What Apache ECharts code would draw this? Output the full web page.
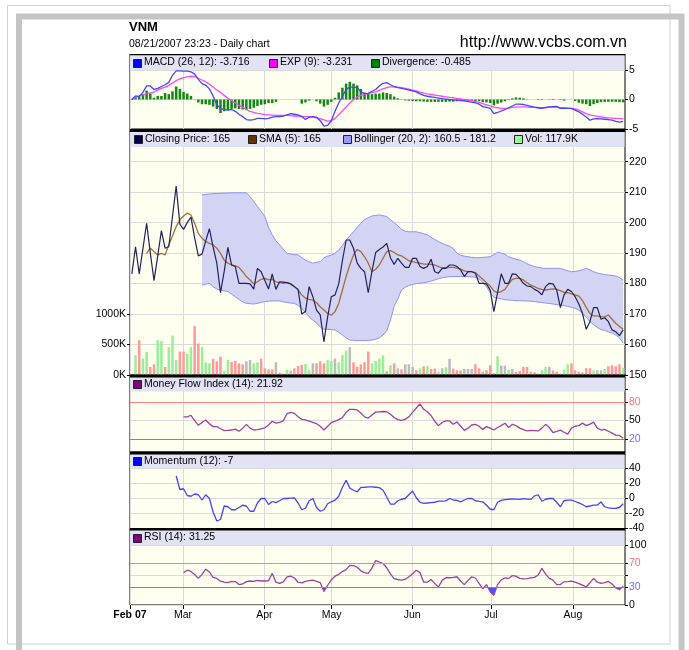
<!DOCTYPE html>
<html><head><meta charset="utf-8">
<script src="https://cdn.jsdelivr.net/npm/echarts@6/dist/echarts.min.js"></script>
<style>html,body{margin:0;padding:0;background:#fff}#c{width:689px;height:650px}</style>
</head><body><div id="c"></div>
<script>
// ---- data (day index 0..133, Feb 2007 - 21 Aug 2007) ----
const monthLabels = ['Feb 07','Mar','Apr','May','Jun','Jul','Aug'];
const monthPos = [-0.5,13.85,35.86,54.1,75.9,97.2,119.4];

const closePrice = [183.2,192.1,183.2,191.5,199.8,190,181.0,189,197.4,191.6,
 192.1,202,212.0,199.5,197.8,200,201.8,195,189.1,189.7,
 194,198.0,192,186.7,177.0,184,191.9,186.1,185.6,180.1,
 180.1,180.1,179.9,178.2,185.0,183.9,181,178.2,183.2,178.1,
 180.6,180.5,180.3,179.9,179,178.1,170.0,170.8,179.0,175.7,
 171.3,169.7,160.9,169.1,175.7,176.3,179.9,187.5,194.3,194.3,
 191.6,186.7,185,183.9,177.0,184,190.2,191.2,192,193.2,
 188.5,186.3,188.3,186.7,185.3,185.3,188.3,188.3,185.6,185.0,
 185.6,188.0,183.9,183.4,185.0,185.0,186.1,186.1,185.6,184.5,
 182.3,183.9,183.9,183.4,180.1,180.1,179.9,177.9,170.8,177,
 183.2,180.1,180.1,183.2,183.0,181.7,180.1,179.2,179.0,178.1,
 177.5,176.3,179.0,180.1,179.9,177.9,172.1,176.3,178.1,177.4,
 175.7,173.3,170.2,165.0,167.5,172.1,172.1,168.3,168.8,167.5,
 164.8,164.2,162.9,164.8];

const sma5 = [null,null,null,null,189.9,191.6,190.5,189.4,189.9,189.4,
 192.7,195.6,198.7,200.9,202.2,203.1,202.5,199.8,196.5,194.9,
 193.8,193.2,192.7,191.6,189.9,187.7,186.7,186.1,185.8,185.3,
 183.9,182.3,181.2,179.9,180.6,181.4,181.7,181.2,181.4,180.6,
 180.3,180.1,180.3,179.9,179.0,177.9,176.3,175.2,174.8,174.6,
 173.7,172.4,171.3,170.2,169.6,170.8,173.5,177.9,182.3,186.1,
 189.4,191.2,190.5,188.8,186.7,183.9,184.7,186.1,188.3,190.5,
 190.8,190.2,189.4,189.1,188.3,187.5,187.2,186.9,186.7,186.4,
 186.4,186.3,186.1,185.6,185.2,185.2,185.3,185.3,185.1,184.8,
 184.2,183.9,183.9,183.6,182.5,181.4,180.3,179.2,177.6,177.0,
 177.4,178.1,179.9,181.4,181.7,181.7,181.2,180.3,179.5,179.0,
 178.4,178.1,177.9,178.1,178.3,178.1,177.7,177.1,177.0,176.6,
 176.3,175.9,174.4,172.2,170.2,169.4,169.4,169.1,169.1,169.7,
 168.3,167.0,165.9,165.0];

const bollUpper = [null,null,null,null,null,null,null,null,null,null,
 null,null,null,null,null,null,null,null,null,
 209.1,209.3,209.4,209.5,209.6,209.6,209.7,209.7,209.8,209.8,
 209.8,209.8,209.8,208.5,207,205.3,203.7,202.0,198.5,196,
 194,192.7,191.3,189.9,189.7,189.5,189.4,188.5,187.7,187.2,
 186.7,187,187.2,188.5,189,189.4,190,191,192.5,194.3,
 195.6,197.0,198.5,199.8,201,201.6,202.2,202.4,202.5,202.3,
 202.0,201,200,199,197.8,197.2,197,197,197,196.7,
 196.4,196,195.2,194.5,193.8,193.2,192.7,192.3,191.5,190,
 189.3,189,188.8,188.6,188.5,188.5,188.6,188.7,188.8,189.5,
 190.3,190,189.6,188.8,188.4,188,187.7,187.2,186.5,186,
 185.6,185.3,185.1,185.0,185.0,185.0,185.0,185,184.6,184.2,
 183.9,184,184.2,184.6,185.0,184.5,183.9,183.5,183.2,183,
 182.8,182.7,182.5,182.0,181.2];

const bollLower = [null,null,null,null,null,null,null,null,null,null,
 null,null,null,null,null,null,null,null,null,
 179.5,179.8,180.1,179,178.2,177.9,177.6,177.4,176.5,175.7,
 174.8,174,173.5,173.4,173.3,173.5,173.8,174.1,174.2,174.3,
 174.3,174.3,174,173.8,173.6,173.5,172.8,171.9,170.5,169.1,
 168,167.0,165.8,165.0,165.0,164.9,164.8,164,163.1,162.2,
 161.5,161.4,161.3,161.3,161.3,161.3,161.5,161.7,162.2,163.1,
 164.5,168,172.5,175,177.9,178.8,179.4,179.7,180,180.1,
 180.3,180.5,180.8,181.2,181.6,181.9,182.1,182.3,182.3,182.3,
 182.3,182.3,182.3,182.2,182.1,181.5,180.5,179,177,175.5,
 175.2,175,174.7,174.6,174.5,174.4,174.4,174.3,174.3,174.2,
 174.1,173.9,173.8,173.6,173.5,173.3,173.1,173,172.8,172.5,
 172.2,171.9,171.3,170.2,169,167.5,166.5,165.6,164.9,164.6,
 164.2,163.8,163.1,162.2,160.5];

const volumeK = [null,324,571,269,379,132,176,571,555,132,
 456,648,247,385,385,346,456,802,516,456,
 209,192,264,225,302,71,247,214,231,192,
 176,225,247,192,209,269,110,93,93,209,
 38,22,88,71,110,148,165,181,77,192,
 192,225,192,242,231,269,209,330,401,456,
 209,137,176,209,385,192,231,269,324,60,
 159,192,110,93,176,176,132,77,110,143,
 148,99,104,55,110,126,264,104,77,77,
 99,99,99,176,110,55,77,159,33,308,
 154,154,88,99,55,66,132,132,55,44,
 22,77,132,132,77,55,22,88,176,192,
 77,55,44,110,110,77,77,77,99,143,
 159,143,176,117.9];

// u = up (green), d = down (red), n = unchanged (grey)
const volumeDir = ['u','u','d','u','u','d','d','u','u','d',
 'u','u','u','d','d','u','u','d','d','u',
 'u','u','d','d','d','u','u','d','d','d',
 'd','n','n','u','u','d','d','d','d','n',
 'd','d','u','n','d','d','d','u','u','n',
 'd','d','d','u','u','n','u','u','u','n',
 'd','d','d','d','d','u','u','u','u','d',
 'u','d','n','d','n','n','n','d','u','d',
 'u','d','d','u','n','u','n','d','d','d',
 'n','n','n','d','d','n','d','d','n','u',
 'n','n','u','n','d','d','d','d','n','d',
 'd','u','u','n','d','d','n','u','u','d',
 'd','d','n','d','d','u','n','n','u','d',
 'd','d','d','u'];

const macd = [0,0.6,0.5,1.2,2.3,2.3,1.7,1.9,2.2,2.5,
 2.9,4.1,4.85,4.85,4.8,4.8,4.7,4.3,3.4,2.7,
 2.4,1.8,0.6,-0.9,-1.5,-1.7,-1.8,-1.7,-2.0,-2.5,
 -2.9,-3.4,-3.5,-3.4,-3.2,-3.2,-3.3,-3.2,-3.0,-2.9,
 -2.9,-2.8,-2.6,-2.4,-2.5,-2.6,-2.9,-3.4,-3.0,-2.9,
 -3.0,-3.6,-4.5,-4.4,-3.6,-2.0,-0.6,0.5,1.7,2.1,
 2.1,2.0,1.3,1.0,1.05,1.4,1.7,2.3,2.75,2.85,
 2.5,2.2,2.0,1.9,1.75,1.6,1.45,1.3,0.95,0.7,
 0.55,0.45,0.35,0.25,0.15,0.08,0.0,-0.05,-0.1,-0.15,
 -0.25,-0.35,-0.45,-0.55,-0.8,-1.2,-1.35,-1.5,-2.4,-2.2,
 -1.95,-1.7,-1.4,-1.1,-0.8,-0.8,-0.85,-1.0,-1.15,-1.3,
 -1.4,-1.5,-1.35,-1.25,-1.2,-1.15,-1.5,-1.5,-1.5,-1.5,
 -1.8,-2.1,-2.5,-2.95,-3.5,-3.3,-3.25,-3.3,-3.35,-3.4,
 -3.5,-3.7,-3.85,-3.716];

const macdExp = [0,0.3,0.6,0.8,1.0,1.1,1.3,1.6,1.9,2.1,
 2.4,2.8,3.2,3.5,3.7,3.85,3.95,3.9,3.6,3.3,
 3.0,2.6,2.1,1.6,1.2,0.7,0.2,-0.2,-0.6,-1.0,
 -1.3,-1.7,-2.0,-2.2,-2.35,-2.45,-2.55,-2.6,-2.65,-2.7,
 -2.7,-2.7,-2.7,-2.75,-2.8,-2.8,-2.85,-2.9,-2.9,-3.0,
 -3.1,-3.25,-3.45,-3.65,-3.6,-3.2,-2.6,-1.9,-1.3,-0.6,
 0.0,0.45,0.7,0.85,1.0,1.15,1.3,1.55,1.8,2.0,
 2.15,2.15,2.1,2.0,1.9,1.75,1.6,1.45,1.25,1.1,
 0.95,0.85,0.75,0.65,0.55,0.45,0.35,0.3,0.2,0.1,
 0.0,-0.1,-0.2,-0.35,-0.5,-0.7,-0.9,-1.1,-1.3,-1.4,
 -1.5,-1.5,-1.45,-1.35,-1.3,-1.25,-1.25,-1.3,-1.35,-1.35,
 -1.4,-1.4,-1.4,-1.35,-1.35,-1.35,-1.4,-1.4,-1.45,-1.5,
 -1.6,-1.8,-2.1,-2.4,-2.6,-2.75,-2.85,-2.95,-3.05,-3.1,
 -3.15,-3.2,-3.25,-3.231];

const divergence = [0.1,0.5,0.4,0.9,1.5,1.0,0.3,0.6,0.6,1.1,
 0.9,1.4,2.2,1.8,1.3,1.0,0.6,0.05,-0.5,-0.8,
 -0.8,-0.9,-1.2,-1.6,-2.3,-2.0,-1.8,-1.6,-1.5,-1.6,
 -1.7,-1.8,-1.6,-1.4,-1.1,-0.9,-0.8,-0.6,-0.6,-0.4,
 0,0,0,0,0,0,-0.7,-0.5,-0.2,0,
 -0.3,-0.7,-1.2,-0.9,-0.4,0.3,1.2,2.0,2.7,3.0,
 2.7,2.4,1.8,1.2,1.0,0.9,1.0,1.0,1.2,1.1,
 0.9,0.5,0.2,0.05,-0.15,-0.2,-0.25,-0.3,-0.3,-0.35,
 -0.4,-0.4,-0.4,-0.4,-0.4,-0.4,-0.35,-0.35,-0.3,-0.3,
 -0.3,-0.3,-0.3,-0.25,-0.3,-0.45,-0.5,-0.6,-1.0,-0.7,
 -0.5,-0.3,-0.1,0.2,0.35,0.3,0.2,0.05,0,0,
 -0.1,-0.1,0,0.05,0.1,0,-0.1,-0.2,0,0,
 -0.25,-0.55,-0.7,-0.8,-1.1,-0.8,-0.6,-0.45,-0.4,-0.4,
 -0.4,-0.4,-0.45,-0.485];

const mfi = [null,null,null,null,null,null,null,null,null,null,
 null,null,null,null,56,56,58.5,50,42.5,47,
 51,45,40.4,40.4,37,34,34.5,35,36.5,33,
 38,44,38,35,35.5,37,38.5,43,49,46,
 47,50,61,63,61.5,56,52,51,49,47,
 45,41,35,41,46.8,49,51.5,54.8,63,68,
 67.8,67,62,56,54,59,63.5,64,64.5,64,
 60,55,51.5,50.5,52,56,63,70,76.5,68,
 64,58,49,42,47,49.5,49.5,44.1,48,41,
 34.5,38,43,44.1,41,36,40.4,38,35,39,
 42,45.7,39,44,42,38,35.5,33.8,34.3,34,
 33.5,38,44,39,31,33,35,31.5,28.5,38,
 41,42,46,42,44.5,47.5,38,35,36,33,
 30,26.8,26.4,21.92];

const momentum = [null,null,null,null,null,null,null,null,null,null,
 null,null,30,12,13,4,3,6,5,-2,
 5,0,-18,-30,-28,-10,-11,-15,-15,-12,
 -9,-10,-17,-17,-6,0,0,-8,-4,-5.5,
 -3,0,0,0.5,0.9,-6,-15,-13,-3,0,
 -12,-17,-15,-7,-4.5,-2.2,3,15,24.4,14,
 11,9,14.7,15,15.5,15.5,15,14.5,11,2,
 -7.6,-7.6,-3,-1,0,5,10,1,-5,-6.5,
 -6,-5.5,-5,-3.6,-3.4,-3.1,0,-2,-2.5,-4.4,
 -2,0,0,-3,-3.8,-4.4,-9,-14,-15,-5,
 -2.5,-1.5,-1,-0.5,-0.8,-1.3,-0.3,-0.8,-1.3,3.5,
 5,-3.6,-1,0,0,-5,-11,-3,-2.2,-2.2,
 -4,-5.8,-8,-11,-10,-8.9,-8.9,-4.4,-11,-12.5,
 -13.3,-13,-12,-7];

const rsi = [null,null,null,null,null,null,null,null,null,null,
 null,null,null,null,54,58,56,51,44.3,51,
 59.7,55,46,44.3,39.7,38.2,37.4,39.5,39,34,
 35.1,39,40,39.5,41,40,40,40.3,53,38,
 36,38.6,47,48,45,38,37,39.5,40.5,41.4,
 39.5,37.4,22.6,32.9,42,48,51.1,55.7,59,66,
 65.5,63,57,54,52.8,61.4,74,71.7,69,62,
 52,44,42.5,41.4,42.6,47,52,58,54,38,
 38,42.6,36,30,41,45.4,45.4,46,47.1,40,
 34,41,47,45,36,27.1,34,22,16,34,
 42,45,44.3,49,48,44.3,43.5,44,45.4,46,
 50,61,52,44.3,41.4,34,34,38.6,39,39.7,
 38,35.7,33,30,37,44.3,38,36,37.4,39.2,
 35,28.3,25.4,31.25];

const macdTicks = [-5,0,5];
const priceTicks = [150,160,170,180,190,200,210,220];
const volumeTicks = [0,500,1000];
const mfiTicks = [20,50,80,100];
const mfiLabels = [20,50,80];
const momentumTicks = [-40,-20,0,20,40];
const rsiTicks = [0,30,50,70,100];
const rsiLabels = [0,30,70,100];

// ---- layout ----
const FONT = '"Liberation Sans", Arial, sans-serif';
const L = 130, W = 495;
const panels = [
  {top: 55, height: 74},   // MACD
  {top: 131, height: 244}, // price + volume
  {top: 377, height: 75},  // MFI
  {top: 454, height: 74.5},// momentum
  {top: 530, height: 75}   // RSI
];
const RSI_MAX = 125;
const pairs = arr => arr.map((v, i) => [i, v]);
const volColors = {u: '#99EE99', d: '#FF9999', n: '#BBBBBB'};

const grids = panels.map(p => ({
  left: L, width: W, top: p.top, height: p.height,
  show: true, backgroundColor: '#FFFFF0', borderColor: '#000', borderWidth: 1
}));

const xAxes = panels.map((p, k) => ({
  type: 'value', gridIndex: k, min: -0.5, max: 133.5,
  axisLine: {show: false, onZero: false},
  axisTick: {show: k === 4, customValues: monthPos, length: 4, lineStyle: {color: '#000'}},
  axisLabel: {
    show: k === 4, customValues: monthPos, margin: 5, fontSize: 10.5, fontFamily: FONT, color: '#000',
    formatter: v => {
      let idx = 0, best = 1e9;
      monthPos.forEach((m, j) => { if (Math.abs(m - v) < best) { best = Math.abs(m - v); idx = j; } });
      return idx === 0 ? '{b|' + monthLabels[0] + '}' : monthLabels[idx];
    },
    rich: {b: {fontWeight: 'bold', fontSize: 10.5, fontFamily: FONT, color: '#000'}}
  },
  splitLine: {show: true, lineStyle: {color: '#DADADA', width: 1}}
}));

function yAx(k, min, max, ticks, labels) {
  return {
    type: 'value', gridIndex: k, position: 'right', min: min, max: max,
    axisLine: {show: false, onZero: false},
    axisTick: {show: true, customValues: ticks, length: 3, lineStyle: {color: '#000'}},
    axisLabel: {customValues: labels || ticks, margin: 4, fontSize: 10.5, fontFamily: FONT, color: '#000'},
    splitLine: {show: true, lineStyle: {color: '#DADADA', width: 1}}
  };
}

const yAxes = [
  yAx(0, -5, -5 + 74 / 5.9, macdTicks),
  yAx(1, 150, 150 + 244 / 3.047, priceTicks),
  {
    type: 'value', gridIndex: 1, position: 'left', min: 0, max: 244 / 30.47 * 500,
    axisLine: {show: false, onZero: false},
    axisTick: {show: true, customValues: volumeTicks, length: 3, lineStyle: {color: '#000'}},
    axisLabel: {customValues: volumeTicks, margin: 4, fontSize: 10.5, fontFamily: FONT, color: '#000', formatter: v => v + 'K'},
    splitLine: {show: false}
  },
  yAx(2, 0, 75 / 0.628, mfiTicks, mfiLabels),
  yAx(3, -40, -40 + 74.5 / 0.75, momentumTicks),
  yAx(4, 0, RSI_MAX, rsiTicks, rsiLabels)
];
const colorLabel = v => v === 80 || v === 70 ? '{r|' + v + '}' : (v === 20 || v === 30 ? '{bl|' + v + '}' : String(v));
const labRich = {r: {color: '#FF6F6F', fontSize: 10.5, fontFamily: FONT}, bl: {color: '#6F6FFF', fontSize: 10.5, fontFamily: FONT}};
yAxes[3].axisLabel.formatter = colorLabel; yAxes[3].axisLabel.rich = labRich;
yAxes[5].axisLabel.formatter = colorLabel; yAxes[5].axisLabel.rich = labRich;

const lineS = (xi, yi, data, color, w) => ({
  type: 'line', xAxisIndex: xi, yAxisIndex: yi, data: pairs(data), showSymbol: false, symbol: 'none',
  lineStyle: {color: color, width: w || 1.2}, itemStyle: {color: color}, silent: true, z: 3
});
const hLines = (hi, lo) => ({
  silent: true, symbol: 'none', label: {show: false},
  lineStyle: {type: 'solid', width: 1},
  data: [{yAxis: hi, lineStyle: {color: '#FF8080', type: 'solid', width: 1}},
         {yAxis: lo, lineStyle: {color: '#7777FF', type: 'solid', width: 1}}]
});

const series = [];
// MACD panel
series.push({type: 'bar', xAxisIndex: 0, yAxisIndex: 0, data: pairs(divergence), barWidth: 2.5,
  itemStyle: {color: '#118811'}, silent: true, z: 2});
series.push(lineS(0, 0, macdExp, '#FF44FF', 1.3));
series.push(lineS(0, 0, macd, '#4444FF', 1.3));
// price panel
series.push({type: 'custom', xAxisIndex: 1, yAxisIndex: 1, silent: true, z: 1,
  data: [[19, bollUpper[19]]],
  renderItem: function (params, api) {
    const top = [], bot = [];
    for (let i = 0; i < bollUpper.length; i++) {
      if (bollUpper[i] == null) continue;
      top.push(api.coord([i, bollUpper[i]]));
      bot.push(api.coord([i, bollLower[i]]));
    }
    return {type: 'polygon', z2: 0, shape: {points: top.concat(bot.reverse())}, style: {fill: '#D3D3F3'}};
  }});
series.push({type: 'bar', xAxisIndex: 1, yAxisIndex: 2, data: pairs(volumeK), barWidth: 2.5, silent: true, z: 2,
  itemStyle: {color: p => volColors[volumeDir[p.dataIndex]]}});
series.push(lineS(1, 1, bollUpper, '#8F8FFF', 1));
series.push(lineS(1, 1, bollLower, '#8F8FFF', 1));
series.push(lineS(1, 1, sma5, '#A0703A', 1.3));
series.push(lineS(1, 1, closePrice, '#22225E', 1.2));
// MFI panel
const mfiS = lineS(2, 3, mfi, '#A040A0', 1.3); mfiS.markLine = hLines(80, 20);
series.push(mfiS);
// momentum
series.push(lineS(3, 4, momentum, '#4444FF', 1.3));
// RSI: area below the 30 line
const rsiPanel = panels[4];
const y30 = rsiPanel.top + rsiPanel.height * (1 - 30 / RSI_MAX);
const off30 = (y30 - rsiPanel.top) / rsiPanel.height;
series.push({type: 'line', xAxisIndex: 4, yAxisIndex: 5, data: pairs(rsi), showSymbol: false, symbol: 'none',
  lineStyle: {width: 0, opacity: 0}, silent: true, z: 2,
  areaStyle: {origin: 30, opacity: 1,
    color: new echarts.graphic.LinearGradient(0, rsiPanel.top, 0, rsiPanel.top + rsiPanel.height, [
      {offset: 0, color: 'rgba(80,80,255,0)'}, {offset: off30, color: 'rgba(80,80,255,0)'},
      {offset: off30, color: '#5050FF'}, {offset: 1, color: '#5050FF'}], true)}});
const rsiS = lineS(4, 5, rsi, '#A040A0', 1.3); rsiS.markLine = hLines(70, 30);
series.push(rsiS);

// ---- decorations ----
const g = [];
g.push({type: 'rect', shape: {x: 7.5, y: 5.5, width: 662.5, height: 638.5}, style: {fill: 'none', stroke: '#D0D0D0', lineWidth: 1}, z: 0});
g.push({type: 'rect', shape: {x: 19, y: 16.5, width: 662.5, height: 700}, style: {fill: 'none', stroke: '#C4C4C4', lineWidth: 6}, z: 0});
const txt = (x, y, s, size, weight, align) => ({type: 'text', x: x, y: y, z: 20,
  style: {text: s, fontSize: size, fontWeight: weight || 'normal', fontFamily: FONT, fill: '#000',
          textAlign: align || 'left', textVerticalAlign: 'middle'}});
g.push(txt(129, 27.5, 'VNM', 13, 'bold'));
g.push(txt(129, 44.5, '08/21/2007 23:23 - Daily chart', 10.5));
g.push(txt(627, 43, 'http://www.vcbs.com.vn', 16, 'normal', 'right'));

const bands = [
  {y: 55, h: 15, items: [[133, '#0000FF', 'MACD (26, 12): -3.716'], [269, '#FF00FF', 'EXP (9): -3.231'], [371, '#008000', 'Divergence: -0.485']]},
  {y: 131.5, h: 15.5, items: [[134, '#000050', 'Closing Price: 165'], [248, '#663300', 'SMA (5): 165'], [343, '#9999FF', 'Bollinger (20, 2): 160.5 - 181.2'], [514, '#99FF99', 'Vol: 117.9K']]},
  {y: 377, h: 14.5, items: [[133, '#800080', 'Money Flow Index (14): 21.92']]},
  {y: 454, h: 14, items: [[133, '#0000FF', 'Momentum (12): -7']]},
  {y: 530, h: 15, items: [[133, '#800080', 'RSI (14): 31.25']]}
];
bands.forEach(b => {
  g.push({type: 'rect', shape: {x: L + 0.5, y: b.y, width: W - 1, height: b.h}, style: {fill: '#E2E2F5'}, z: 1});
  const cy = b.y + b.h / 2;
  b.items.forEach(it => {
    g.push({type: 'rect', shape: {x: it[0] + 0.5, y: Math.round(cy - 4) + 0.5, width: 8, height: 8}, style: {fill: it[1], stroke: '#222', lineWidth: 1}, z: 20});
    g.push(txt(it[0] + 11, cy, it[2], 10.5));
  });
});
// thick separators between panels
[[129, 3], [374.5, 3], [451.5, 3], [528, 2.5]].forEach(s => {
  g.push({type: 'rect', shape: {x: L - 0.5, y: s[0], width: W + 1, height: s[1]}, style: {fill: '#000'}, z: 15});
});
g.push({type: 'rect', shape: {x: L - 0.5, y: 54, width: W + 1, height: 1.2}, style: {fill: '#000'}, z: 15});

const chart = echarts.init(document.getElementById('c'), null, {renderer: 'canvas'});
chart.setOption({
  animation: false,
  backgroundColor: '#FFFFFF',
  grid: grids,
  xAxis: xAxes,
  yAxis: yAxes,
  series: series,
  graphic: {elements: g}
});
</script></body></html>
